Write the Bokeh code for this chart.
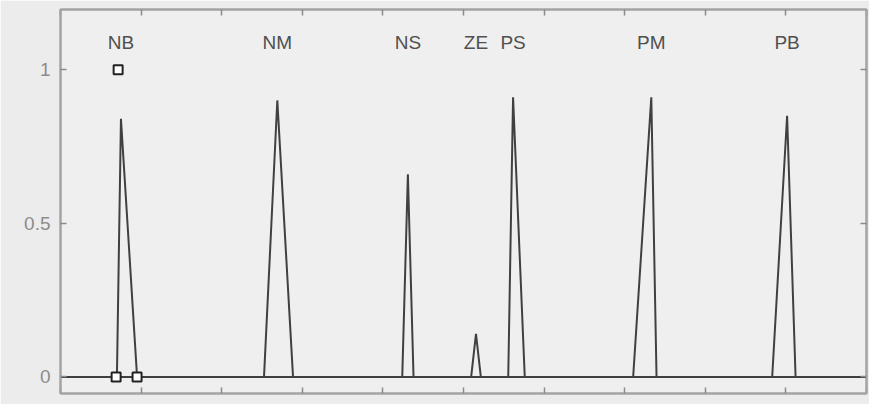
from bokeh.plotting import figure
from bokeh.models import LinearAxis, FixedTicker, ColumnDataSource, Range1d
from bokeh.core.properties import value
from bokeh.embed import file_html
from bokeh.resources import INLINE

# Membership functions (triangles): left foot, peak, right foot, peak height
mf_names = ["NB", "NM", "NS", "ZE", "PS", "PM", "PB"]
mf_left = [-0.860, -0.495, -0.152, 0.019, 0.111, 0.421, 0.766]
mf_peak = [-0.850, -0.462, -0.138, 0.031, 0.123, 0.466, 0.803]
mf_right = [-0.810, -0.423, -0.124, 0.043, 0.152, 0.479, 0.824]
mf_height = [0.84, 0.90, 0.66, 0.14, 0.91, 0.91, 0.85]

# selected-MF handle markers
sel_x = [-0.857, -0.862, -0.810]
sel_y = [1.0, 0.0, 0.0]

x_ticks = [-1.0, -0.8, -0.6, -0.4, -0.2, 0.0, 0.2, 0.4, 0.6, 0.8, 1.0]
y_ticks = [0, 0.5, 1]
y_tick_labels = {0: "0", 0.5: "0.5", 1: "1"}

BG = "#efefef"
EDGE = "#a3a3a3"
LINE = "#404040"

p = figure(frame_width=806, frame_height=384, output_backend="svg",
           toolbar_location=None, x_range=Range1d(-1, 1), y_range=Range1d(-0.054, 1.196),
           x_axis_location=None, y_axis_location=None,
           min_border_left=60, min_border_right=3, min_border_top=9, min_border_bottom=11,
           background_fill_color=BG, border_fill_color="#ececec")
p.outline_line_color = EDGE
p.outline_line_width = 2
p.xgrid.visible = False
p.ygrid.visible = False


def style_axis(ax, labels):
    ax.axis_line_color = EDGE
    ax.axis_line_width = 2
    ax.major_tick_in = 6
    ax.major_tick_out = 0
    ax.major_tick_line_color = "#8a8a8a"
    ax.major_tick_line_width = 1.5
    ax.minor_tick_line_color = None
    if labels:
        ax.major_label_text_font = "Liberation Sans"
        ax.major_label_text_font_size = "19px"
        ax.major_label_text_color = "#8c8c8c"
        ax.major_label_standoff = 10
    else:
        ax.major_label_text_color = None
        ax.major_label_text_font_size = "1px"
        ax.major_label_standoff = 0


left = LinearAxis(ticker=FixedTicker(ticks=y_ticks), major_label_overrides=y_tick_labels)
style_axis(left, True)
right = LinearAxis(ticker=FixedTicker(ticks=y_ticks))
style_axis(right, False)
bottom = LinearAxis(ticker=FixedTicker(ticks=x_ticks))
style_axis(bottom, False)
top = LinearAxis(ticker=FixedTicker(ticks=x_ticks))
style_axis(top, False)
p.add_layout(left, "left")
p.add_layout(right, "right")
p.add_layout(bottom, "below")
p.add_layout(top, "above")

# baseline
p.line(x=[x_ticks[0], x_ticks[-1]], y=[0, 0], line_color=LINE, line_width=2)

xs = [[a, b, c] for a, b, c in zip(mf_left, mf_peak, mf_right)]
ys = [[0, h, 0] for h in mf_height]
p.multi_line(xs=xs, ys=ys, line_color=LINE, line_width=2)

p.scatter(x=sel_x, y=sel_y, marker="square", size=9, line_color="#222222",
          line_width=2, fill_color="white")

src = ColumnDataSource(dict(x=mf_peak, y=[1.09] * len(mf_peak), t=mf_names))
p.text(x="x", y="y", text="t", source=src, text_align="center", text_baseline="middle",
       text_font=value("Liberation Sans"), text_font_size="19px", text_color="#505050")

open("out.html", "w").write(file_html(p, INLINE))
